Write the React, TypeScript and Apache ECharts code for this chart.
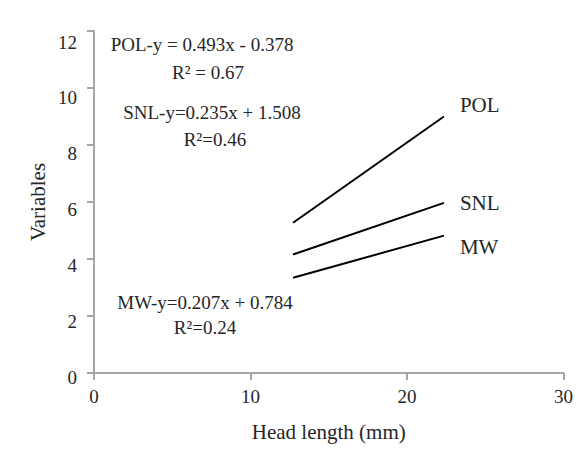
import React, { useEffect, useRef } from "react";
import * as echarts from "echarts";

const xValues = [12.72, 22.36];
const polValues = [5.27, 9.0];
const snlValues = [4.16, 5.97];
const mwValues = [3.34, 4.82];
const seriesNames = ["POL", "SNL", "MW"];
const xTicks = { min: 0, max: 30, interval: 10 };
const yTicks = { min: 0, max: 12, interval: 2 };
const annotations = [
  "POL-y = 0.493x - 0.378",
  "R² = 0.67",
  "SNL-y=0.235x + 1.508",
  "R²=0.46",
  "MW-y=0.207x + 0.784",
  "R²=0.24",
];

const FONT = "'Liberation Serif', 'Times New Roman', serif";
const TXT = "#262626";
const AX = "#a6a6a6";

export default function App() {
  const ref = useRef<HTMLDivElement>(null);
  useEffect(() => {
    if (!ref.current) return;
    const chart = echarts.init(ref.current, undefined, { renderer: "svg" });
    const mk = (name: string, vals: number[], off: number[]) => ({
      name,
      type: "line",
      xAxisIndex: 0,
      yAxisIndex: 0,
      data: xValues.map((x, i) => [x, vals[i]]),
      symbol: "none",
      lineStyle: { color: "#000", width: 2 },
      endLabel: {
        show: true,
        formatter: name,
        distance: 16,
        offset: off,
        fontFamily: FONT,
        fontSize: 21,
        color: TXT,
      },
    });
    const annPos = [
      [194, 36],
      [200, 64],
      [204, 104],
      [207, 131],
      [197, 294],
      [197, 319],
    ];
    chart.setOption({
      animation: false,
      textStyle: { fontFamily: FONT },
      grid: [
        { left: 86, right: 5.5, top: 23, bottom: 63 },
        { left: 86, right: 5.5, top: 34, bottom: 70 },
      ],
      xAxis: [
        {
          type: "value",
          gridIndex: 0,
          min: xTicks.min,
          max: xTicks.max,
          interval: xTicks.interval,
          name: "Head length (mm)",
          nameLocation: "middle",
          nameGap: 48,
          nameTextStyle: { fontFamily: FONT, fontSize: 21, color: TXT },
          axisLine: { show: true, lineStyle: { color: AX, width: 2 } },
          axisTick: { show: true, inside: false, length: 7, lineStyle: { color: AX, width: 2 } },
          axisLabel: { fontFamily: FONT, fontSize: 19, color: TXT, margin: 14 },
          splitLine: { show: false },
        },
        {
          type: "value",
          gridIndex: 1,
          min: xTicks.min,
          max: xTicks.max,
          show: false,
        },
      ],
      yAxis: [
        {
          type: "value",
          gridIndex: 0,
          min: yTicks.min,
          max: yTicks.max,
          interval: yTicks.interval,
          name: "Variables",
          nameLocation: "middle",
          nameGap: 46,
          nameTextStyle: { fontFamily: FONT, fontSize: 21, color: TXT },
          axisLine: { show: true, lineStyle: { color: AX, width: 2 } },
          axisTick: { show: true, inside: false, length: 7, lineStyle: { color: AX, width: 2 } },
          axisLabel: { show: false },
          splitLine: { show: false },
        },
        {
          type: "value",
          gridIndex: 1,
          min: yTicks.min,
          max: yTicks.max,
          interval: yTicks.interval,
          axisLine: { show: false },
          axisTick: { show: false },
          axisLabel: { fontFamily: FONT, fontSize: 19, color: TXT, margin: 17 },
          splitLine: { show: false },
        },
      ],
      graphic: annotations.map((t, i) => ({
        type: "text",
        x: annPos[i][0],
        y: annPos[i][1],
        style: {
          text: t,
          fontFamily: FONT,
          fontSize: 19,
          fill: TXT,
          align: "center",
          verticalAlign: "middle",
        },
      })),
      series: [
        mk(seriesNames[0], polValues, [0, -12]),
        mk(seriesNames[1], snlValues, [0, 0]),
        mk(seriesNames[2], mwValues, [0, 11]),
      ],
    });
    return () => chart.dispose();
  }, []);
  return <div ref={ref} style={{ width: 568, height: 439 }} />;
}
